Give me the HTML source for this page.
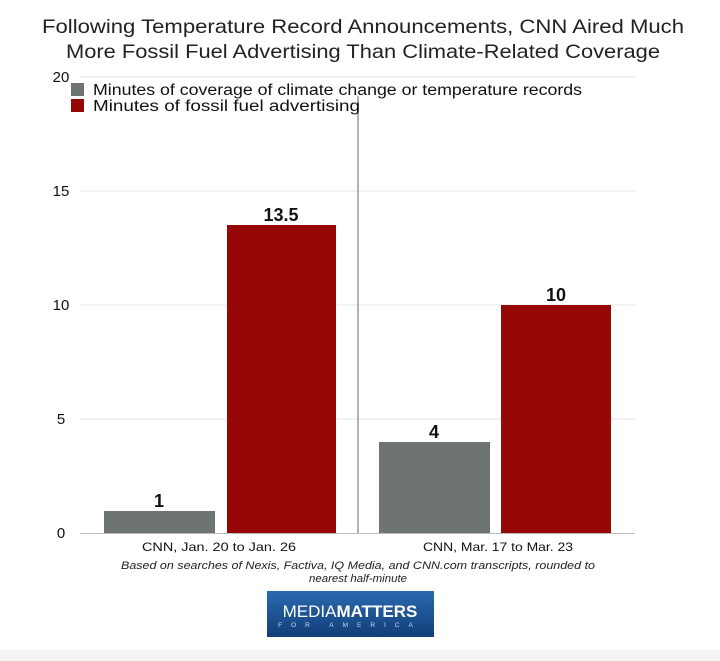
<!DOCTYPE html>
<html><head><style>
body{margin:0;background:#fff;}
svg{display:block;font-family:"Liberation Sans",sans-serif;}
</style></head><body>
<svg width="720" height="661" viewBox="0 0 720 661">
<rect width="720" height="661" fill="#fff"/>
<rect x="0" y="650" width="720" height="11" fill="#f4f4f4"/>
<text x="42" y="33" font-size="19.5" textLength="642" lengthAdjust="spacingAndGlyphs" fill="#222">Following Temperature Record Announcements, CNN Aired Much</text>
<text x="66" y="58" font-size="19.5" textLength="594" lengthAdjust="spacingAndGlyphs" fill="#222">More Fossil Fuel Advertising Than Climate-Related Coverage</text>
<g stroke="#e6e6e6" stroke-width="1">
<line x1="80" y1="77" x2="635" y2="77"/>
<line x1="80" y1="191" x2="635" y2="191"/>
<line x1="80" y1="305" x2="635" y2="305"/>
<line x1="80" y1="419" x2="635" y2="419"/>
</g>
<line x1="80" y1="533.5" x2="635" y2="533.5" stroke="#bbb"/>
<line x1="358" y1="96" x2="358" y2="533" stroke="#999" stroke-width="1.5"/>
<g font-size="15" fill="#111" text-anchor="middle">
<text x="61" y="82">20</text><text x="61" y="196">15</text><text x="61" y="310">10</text><text x="61" y="424">5</text><text x="61" y="538">0</text>
</g>
<rect x="71" y="83" width="13" height="13" fill="#6e7470"/>
<rect x="71" y="99" width="13" height="13" fill="#960806"/>
<text x="93" y="95" font-size="15.5" textLength="489" lengthAdjust="spacingAndGlyphs" fill="#111">Minutes of coverage of climate change or temperature records</text>
<text x="93" y="111" font-size="15.5" textLength="267" lengthAdjust="spacingAndGlyphs" fill="#111">Minutes of fossil fuel advertising</text>
<rect x="104" y="511" width="111" height="22" fill="#6e7470"/>
<rect x="227" y="225" width="109" height="308" fill="#960806"/>
<rect x="379" y="442" width="111" height="91" fill="#6e7470"/>
<rect x="501" y="305" width="110" height="228" fill="#960806"/>
<g font-size="18" font-weight="bold" fill="#111" text-anchor="middle">
<text x="159" y="507">1</text><text x="281" y="221">13.5</text><text x="434" y="438">4</text><text x="556" y="301">10</text>
</g>
<text x="142" y="551" font-size="12" textLength="154" lengthAdjust="spacingAndGlyphs" fill="#111">CNN, Jan. 20 to Jan. 26</text>
<text x="423" y="551" font-size="12" textLength="150" lengthAdjust="spacingAndGlyphs" fill="#111">CNN, Mar. 17 to Mar. 23</text>
<text x="121" y="569" font-size="11" font-style="italic" textLength="474" lengthAdjust="spacingAndGlyphs" fill="#222">Based on searches of Nexis, Factiva, IQ Media, and CNN.com transcripts, rounded to</text>
<text x="309" y="582" font-size="11" font-style="italic" textLength="98" lengthAdjust="spacingAndGlyphs" fill="#222">nearest half-minute</text>
<defs><linearGradient id="g" x1="0" y1="0" x2="0" y2="1"><stop offset="0" stop-color="#2a6ab0"/><stop offset="1" stop-color="#123e78"/></linearGradient></defs>
<rect x="267" y="591" width="167" height="46" fill="url(#g)"/>
<text x="350" y="617" font-size="17" text-anchor="middle" fill="#fff">MEDIA<tspan font-weight="bold">MATTERS</tspan></text>
<text x="350" y="627" font-size="6.5" text-anchor="middle" fill="#cde" letter-spacing="9">FOR AMERICA</text>
</svg>
</body></html>
